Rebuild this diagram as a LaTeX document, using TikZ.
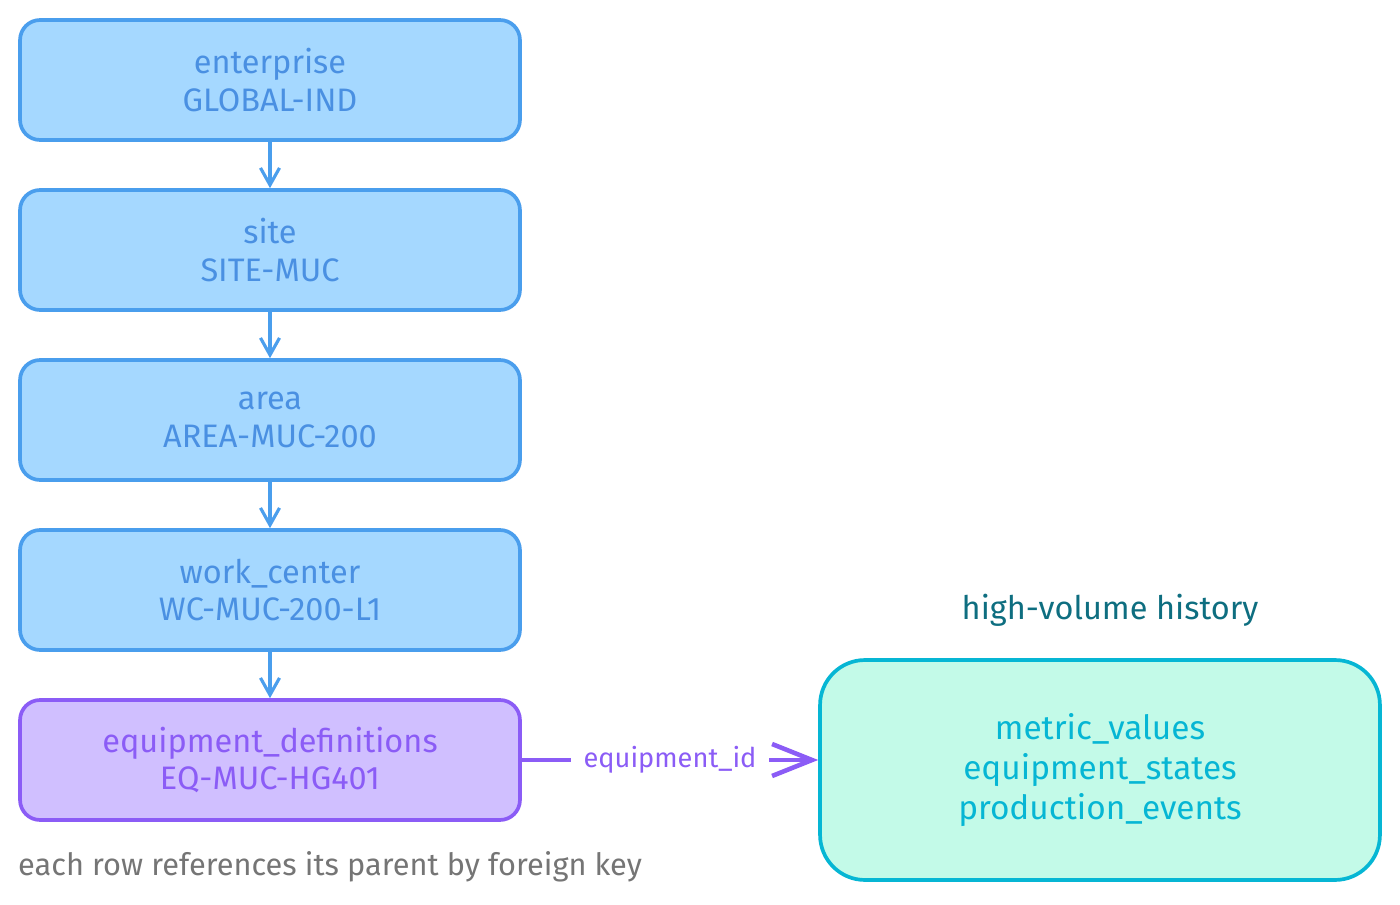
\documentclass[tikz,border=0pt]{standalone}
\usepackage{fontspec}
\setmainfont{Fira Sans}
\usetikzlibrary{arrows.meta,positioning}
\definecolor{lvlfill}{HTML}{A5D8FF}
\definecolor{lvldraw}{HTML}{4A9EED}
\definecolor{lvltext}{HTML}{4A90E2}
\definecolor{eqfill}{HTML}{D0BFFF}
\definecolor{eqdraw}{HTML}{8B5CF6}
\definecolor{histfill}{HTML}{C3FAE8}
\definecolor{histdraw}{HTML}{06B6D4}
\definecolor{histtitle}{HTML}{0E6E80}
\definecolor{notegray}{HTML}{757575}

\begin{document}
\begin{tikzpicture}[x=0.02cm, y=-0.02cm, line join=round, line cap=round,
  level/.style={draw=lvldraw, fill=lvlfill, text=lvltext, line width=2.1pt,
    rounded corners=0.4cm, minimum width=10cm, minimum height=2.4cm,
    align=center, font=\fontsize{18.5}{21.5}\selectfont},
  link/.style={draw=lvldraw, line width=1.8pt, -{Straight Barb[length=3.4mm,width=3.8mm,line width=1.8pt]}}]
\useasboundingbox[fill=white] (0,0) rectangle (1400,905);
\node[level] (ent) at (270,80) {enterprise\\GLOBAL-IND};
\node[level] (site) at (270,250) {site\\SITE-MUC};
\node[level] (area) at (270,420) {area\\AREA-MUC-200};
\node[level] (wc) at (270,590) {work\_center\\WC-MUC-200-L1};
\node[level, draw=eqdraw, fill=eqfill, text=eqdraw] (eq) at (270,760) {equipment\_definitions\\EQ-MUC-HG401};
\draw[link] (ent) -- (site);
\draw[link] (site) -- (area);
\draw[link] (area) -- (wc);
\draw[link] (wc) -- (eq);
% history tables
\node[draw=histdraw, fill=histfill, text=histdraw, line width=2.1pt, rounded corners=0.9cm,
  minimum width=11.2cm, minimum height=4.4cm, align=center,
  font=\fontsize{19}{22.7}\selectfont] (hist) at (1100,770)
  {metric\_values\\equipment\_states\\production\_events};
\node[text=histtitle, font=\fontsize{18.5}{22}\selectfont] (histlbl) at (1110,610) {high-volume history};
\draw[eqdraw, line width=2.6pt, -{Straight Barb[length=8mm,width=6.4mm,line width=2.6pt]}]
  (eq.east) -- node[fill=white, inner xsep=7pt, text=eqdraw, font=\fontsize{15.5}{18}\selectfont] (fk) {equipment\_id} (eq.east -| hist.west);
\node[anchor=west, text=notegray, font=\fontsize{17.5}{20}\selectfont] (note) at (12,867) {each row references its parent by foreign key};
\end{tikzpicture}
\end{document}
